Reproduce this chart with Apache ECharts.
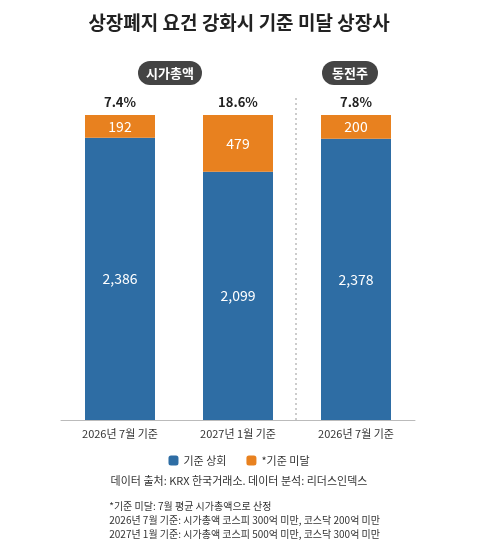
<!DOCTYPE html><html><head><meta charset="utf-8"><script src="https://cdn.jsdelivr.net/npm/echarts@6/dist/echarts.min.js"></script>
<style>body{margin:0}#c{width:478px;height:549px}</style></head><body><div id="c"></div><script>
const categories=['2026년 7월 기준','2027년 1월 기준','2026년 7월 기준'];
const above=[2386,2099,2378];
const below=[192,479,200];
const shares=['7.4%','18.6%','7.8%'];
const F='"Noto Sans CJK KR", sans-serif';
const c=echarts.init(document.getElementById('c'));
c.setOption({
 title:{text:'상장폐지 요건 강화시 기준 미달 상장사',left:'center',top:8,textStyle:{fontFamily:F,fontSize:19,fontWeight:'bold',color:'#222'}},
 grid:{left:61,right:63,top:115,bottom:129},
 xAxis:{type:'category',data:[0,1,2],axisLine:{show:true,lineStyle:{color:'#bbb'}},axisTick:{show:false},
  axisLabel:{formatter:(v,i)=>categories[i],fontFamily:F,fontSize:11,color:'#333',margin:8}},
 yAxis:{type:'value',min:0,max:2578,show:false},
 legend:{bottom:78,left:'center',itemWidth:10,itemHeight:10,itemGap:20,textStyle:{fontFamily:F,fontSize:11,color:'#333'},data:['기준 상회','*기준 미달']},
 series:[
  {name:'기준 상회',type:'bar',stack:'a',barWidth:70,data:above,itemStyle:{color:'#2e6da4'},
   label:{show:true,position:'inside',color:'#fff',fontFamily:F,fontSize:14,formatter:p=>p.value.toLocaleString('en-US')}},
  {name:'*기준 미달',type:'bar',stack:'a',barWidth:70,data:below,itemStyle:{color:'#e8811f'},
   label:{show:true,position:'inside',color:'#fff',fontFamily:F,fontSize:14}},
  {type:'bar',stack:'a',barWidth:70,data:[0,0,0],itemStyle:{color:'transparent'},silent:true,
   label:{show:true,position:'top',distance:6,color:'#222',fontFamily:F,fontSize:13,fontWeight:'bold',formatter:p=>shares[p.dataIndex]}}
 ],
 graphic:[
  {type:'group',left:138,top:61,children:[{type:'rect',shape:{width:64,height:24,r:12},style:{fill:'#444'}},
   {type:'text',style:{text:'시가총액',x:32,y:12,align:'center',verticalAlign:'middle',fill:'#fff',font:'bold 13px '+F}}]},
  {type:'group',left:322,top:61,children:[{type:'rect',shape:{width:56,height:24,r:12},style:{fill:'#444'}},
   {type:'text',style:{text:'동전주',x:28,y:12,align:'center',verticalAlign:'middle',fill:'#fff',font:'bold 13px '+F}}]},
  {type:'line',shape:{x1:296,y1:98,x2:296,y2:420},style:{stroke:'#999',lineDash:[2,3],lineWidth:1}},
  {type:'text',left:'center',top:475,style:{text:'데이터 출처: KRX 한국거래소. 데이터 분석: 리더스인덱스',fill:'#333',font:'11px '+F}},
  {type:'text',right:98,top:499,style:{text:'*기준 미달: 7월 평균 시가총액으로 산정\n2026년 7월 기준: 시가총액 코스피 300억 미만, 코스닥 200억 미만\n2027년 1월 기준: 시가총액 코스피 500억 미만, 코스닥 300억 미만',align:'right',fill:'#333',font:'10px '+F,lineHeight:14}}
 ]
});
</script></body></html>
